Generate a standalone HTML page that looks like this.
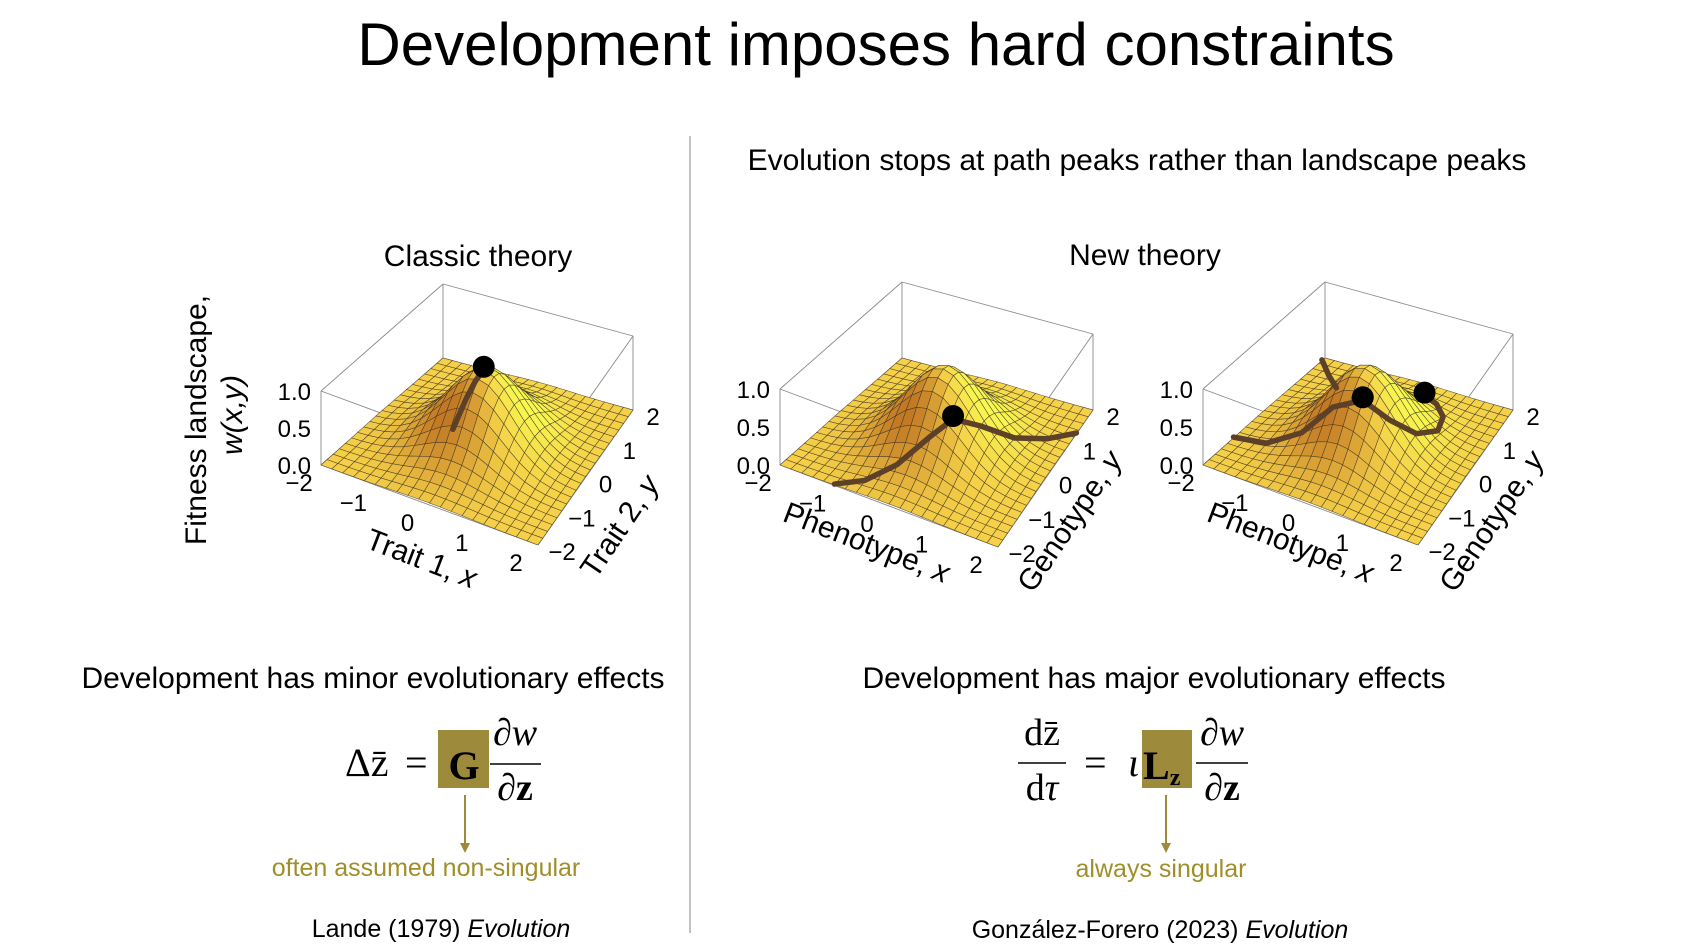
<!DOCTYPE html>
<html><head><meta charset="utf-8"><style>
html,body{margin:0;padding:0;background:#fff}
svg{display:block}
text{font-family:"Liberation Sans",sans-serif;fill:#000}
.serif{font-family:"Liberation Serif",serif}
</style></head><body>
<svg id="s" width="1688" height="952" viewBox="0 0 1688 952">
<text x="876" y="65" font-size="60" text-anchor="middle">Development imposes hard constraints</text>
<line x1="690" y1="136" x2="690" y2="933" stroke="#999" stroke-width="1.2"/>
<text x="1137" y="170" font-size="30" text-anchor="middle">Evolution stops at path peaks rather than landscape peaks</text>
<text x="478" y="266" font-size="30" text-anchor="middle">Classic theory</text>
<text x="1145" y="265" font-size="30" text-anchor="middle">New theory</text>
<text transform="translate(206,420) rotate(-90)" font-size="30" text-anchor="middle">Fitness landscape,</text>
<text transform="translate(242,415) rotate(-90)" font-size="30" text-anchor="middle" font-style="italic">w(x,y)</text>
<g id="plots"></g>
<text x="373" y="688" font-size="30" text-anchor="middle">Development has minor evolutionary effects</text>
<text x="1154" y="688" font-size="30" text-anchor="middle">Development has major evolutionary effects</text>

<g>
<text class="serif" x="345" y="776" font-size="40">Δz̄</text>
<text class="serif" x="405" y="776" font-size="40">=</text>
<rect x="438" y="730" width="51" height="58" fill="#9d8a3a"/>
<text class="serif" x="464" y="779" font-size="40" font-weight="bold" text-anchor="middle">G</text>
<text class="serif" x="515" y="745" font-size="38" text-anchor="middle" font-style="italic">∂w</text>
<line x1="490" y1="764" x2="541" y2="764" stroke="#000" stroke-width="1.5"/>
<text class="serif" x="515" y="800" font-size="38" text-anchor="middle" font-weight="bold">∂z</text>
</g>
<line x1="465" y1="795" x2="465" y2="845" stroke="#9d8a3a" stroke-width="2"/>
<polygon points="460,843 470,843 465,853" fill="#9d8a3a"/>
<text x="426" y="876" font-size="25" text-anchor="middle" style="fill:#a08e2a">often assumed non-singular</text>

<g>
<text class="serif" x="1042" y="745" font-size="38" text-anchor="middle">dz̄</text>
<line x1="1018" y1="763" x2="1066" y2="763" stroke="#000" stroke-width="1.5"/>
<text class="serif" x="1042" y="800" font-size="38" text-anchor="middle">d<tspan font-style="italic">τ</tspan></text>
<text class="serif" x="1084" y="776" font-size="40">=</text>
<text class="serif" x="1128" y="776" font-size="40" font-style="italic">ι</text>
<rect x="1142" y="730" width="50" height="58" fill="#9d8a3a"/>
<text class="serif" x="1143" y="779" font-size="40" font-weight="bold">L<tspan font-size="24" dy="6">z</tspan></text>
<text class="serif" x="1222" y="745" font-size="38" text-anchor="middle" font-style="italic">∂w</text>
<line x1="1196" y1="763" x2="1248" y2="763" stroke="#000" stroke-width="1.5"/>
<text class="serif" x="1222" y="800" font-size="38" text-anchor="middle" font-weight="bold">∂z</text>
</g>
<line x1="1166" y1="795" x2="1166" y2="845" stroke="#9d8a3a" stroke-width="2"/>
<polygon points="1161,843 1171,843 1166,853" fill="#9d8a3a"/>
<text x="1161" y="877" font-size="25" text-anchor="middle" style="fill:#a08e2a">always singular</text>

<text x="441" y="937" font-size="25" text-anchor="middle">Lande (1979) <tspan font-style="italic">Evolution</tspan></text>
<text x="1160" y="938" font-size="25" text-anchor="middle">González-Forero (2023) <tspan font-style="italic">Evolution</tspan></text>
</svg>
<script>
// surface parameters
const peakCenter = [0, 0];
const peakWidth = [0.9, 1.1];
const axisTicks = [-2, -1, 0, 1, 2];
const zTicks = ["0.0", "0.5", "1.0"];
// paths (x,y) for each panel
const classicPathX = [0, -0.03, -0.08, -0.12, -0.15];
const classicPathY = [0, -0.25, -0.5, -0.7, -0.85];
const newPathX = [-1.0, -0.6, -0.2, 0.2, 0.45, 0.8, 1.2, 1.6, 2.0];
const newPathY = [-2.0, -1.7, -1.3, -0.85, -0.5, -0.15, 0.4, 0.9, 1.3];
const newDot = [0.45, -0.5];
const new2PathAX = [-2.0, -1.6, -1.2];
const new2PathAY = [1.9, 1.5, 1.1];
const new2PathBX = [-2.0, -1.4, -0.8, -0.3, 0.2, 0.65, 1.0, 1.15, 1.0, 0.7, 0.4];
const new2PathBY = [-1.0, -0.95, -0.8, -0.6, -0.45, -0.3, 0.05, 0.6, 1.1, 1.4, 1.5];
const new2Dots = [[0.2, -0.45], [0.4, 1.5]];

const NS = "http://www.w3.org/2000/svg";
const plots = document.getElementById('plots');
function mk(tag, attrs, parent) {
  const e = document.createElementNS(NS, tag);
  for (const k in attrs) e.setAttribute(k, attrs[k]);
  (parent || plots).appendChild(e);
  return e;
}
function w(x, y) {
  const dx = x - peakCenter[0], dy = y - peakCenter[1];
  return Math.exp(-(dx * dx / peakWidth[0] + dy * dy / peakWidth[1]));
}
function mix(a, b, t) {
  t = Math.max(0, Math.min(1, t));
  return 'rgb(' + a.map((v, i) => Math.round(v + (b[i] - v) * t)).join(',') + ')';
}
const panels = [
  {L: [321, 465], F: [538, 545], R: [633, 410], B: [443, 358], H: 74, name: 'classic'},
  {L: [780, 465], F: [998, 547], R: [1093, 410], B: [902, 358], H: 76, name: 'new-a'},
  {L: [1203, 465], F: [1418, 545], R: [1513, 410], B: [1325, 358], H: 76, name: 'new-b'}
];
function proj(p, x, y, z) {
  const u = (x + 2) / 4, v = (y + 2) / 4;
  const bx = p.L[0] * (1 - u) * (1 - v) + p.F[0] * u * (1 - v) + p.R[0] * u * v + p.B[0] * (1 - u) * v;
  const by = p.L[1] * (1 - u) * (1 - v) + p.F[1] * u * (1 - v) + p.R[1] * u * v + p.B[1] * (1 - u) * v;
  return [bx, by - z * p.H];
}
function drawPanel(p, idx, labels) {
  const g = mk('g', {});
  
  
  const corners = [[-2, -2], [2, -2], [2, 2], [-2, 2]];
  const edges = [];
  for (let i = 0; i < 4; i++) {
    const a = corners[i], b = corners[(i + 1) % 4];
    edges.push([a, b, 0], [a, b, 1]);
    edges.push([a, a, 0, 1]);
  }
  edges.forEach(e => {
    const z1 = e[2], z2 = e.length > 3 ? e[3] : e[2];
    const A = proj(p, e[0][0], e[0][1], z1), B = proj(p, e[1][0], e[1][1], z2);
    const l = mk('line', {x1: A[0], y1: A[1], x2: B[0], y2: B[1], stroke: '#8a8a8a', 'stroke-width': 0.9}, g);
    
    
  });
  const N = 20, cells = [];
  for (let i = 0; i < N; i++) for (let j = 0; j < N; j++) {
    const x0 = -2 + 4 * i / N, x1 = -2 + 4 * (i + 1) / N, y0 = -2 + 4 * j / N, y1 = -2 + 4 * (j + 1) / N;
    cells.push({x0, x1, y0, y1, d: (x0 + x1) / 2 - (y0 + y1) / 2});
  }
  cells.sort((a, b) => a.d - b.d);
  const dark = [185, 105, 30], mid = [245, 208, 72], bright = [248, 248, 80];
  const sg = mk('g', {}, g);
  
  
  cells.forEach(c => {
    const pts = [[c.x0, c.y0], [c.x1, c.y0], [c.x1, c.y1], [c.x0, c.y1]].map(q => proj(p, q[0], q[1], w(q[0], q[1])));
    const cx = (c.x0 + c.x1) / 2, cy = (c.y0 + c.y1) / 2, wc = w(cx, cy);
    const gx = -2 * (cx - peakCenter[0]) / peakWidth[0] * wc, gy = -2 * (cy - peakCenter[1]) / peakWidth[1] * wc;
    const s = -(0.55 * gx + 0.75 * gy);
    const col = s < 0 ? mix(mid, dark, -s * 1.1) : mix(mid, bright, s * 1.6);
    const poly = mk('polygon', {points: pts.map(q => q.join(',')).join(' '), fill: col, stroke: '#3a3020', 'stroke-width': 0.6, 'stroke-opacity': 0.75}, sg);
    
    
  });
  const tg = mk('g', {'font-size': 24}, g);
  
  
  axisTicks.forEach(t => {
    const a = proj(p, t, -2, 0);
    const e = mk('text', {x: a[0] - 22, y: a[1] + 26, 'text-anchor': 'middle'}, tg);
    e.textContent = t < 0 ? '\u2212' + (-t) : String(t);
    
    
    const b = proj(p, 2, t, 0);
    const f = mk('text', {x: b[0] + 20 + (t === -2 ? 4 : 0), y: b[1] + 15, 'text-anchor': 'middle'}, tg);
    f.textContent = t < 0 ? '\u2212' + (-t) : String(t);
    
    
  });
  zTicks.forEach(t => {
    const a = proj(p, -2, -2, parseFloat(t));
    const e = mk('text', {x: a[0] - 10, y: a[1] + 9, 'text-anchor': 'end'}, tg);
    e.textContent = t;
    
    
  });
  const xl = mk('text', {'font-size': 30, transform: 'translate(' + labels.xc[0] + ',' + labels.xc[1] + ') rotate(21)', 'text-anchor': 'middle'}, g);
  xl.innerHTML = labels.x + ', <tspan font-style="italic">x</tspan>';
  
  
  const yl = mk('text', {'font-size': 30, transform: 'translate(' + labels.yc[0] + ',' + labels.yc[1] + ') rotate(-56)', 'text-anchor': 'middle'}, g);
  yl.innerHTML = labels.y + ', <tspan font-style="italic">y</tspan>';
  
  
  return g;
}
function drawPath(p, g, xs, ys) {
  const pts = xs.map((x, i) => proj(p, x, ys[i], w(x, ys[i]) + 0.01));
  const d = 'M' + pts.map(q => q.join(',')).join(' L');
  const e = mk('path', {d, fill: 'none', stroke: '#5c4128', 'stroke-width': 5.5, 'stroke-linecap': 'round', 'stroke-linejoin': 'round'}, g);
  
  
}
function drawDot(p, g, x, y) {
  const q = proj(p, x, y, w(x, y) + 0.05);
  const c = mk('circle', {cx: q[0], cy: q[1], r: 11, fill: '#000'}, g);
  
  
}
const g1 = drawPanel(panels[0], 0, {x: 'Trait 1', y: 'Trait 2', xc: [418, 568], yc: [628, 532]});
drawPath(panels[0], g1, classicPathX, classicPathY);
drawDot(panels[0], g1, classicPathX[0], classicPathY[0]);
const g2 = drawPanel(panels[1], 1, {x: 'Phenotype', y: 'Genotype', xc: [863, 552], yc: [1078, 527]});
drawPath(panels[1], g2, newPathX, newPathY);
drawDot(panels[1], g2, newDot[0], newDot[1]);
const g3 = drawPanel(panels[2], 2, {x: 'Phenotype', y: 'Genotype', xc: [1287, 552], yc: [1500, 527]});
drawPath(panels[2], g3, new2PathAX, new2PathAY);
drawPath(panels[2], g3, new2PathBX, new2PathBY);
new2Dots.forEach(d => drawDot(panels[2], g3, d[0], d[1]));
</script>
</body></html>
